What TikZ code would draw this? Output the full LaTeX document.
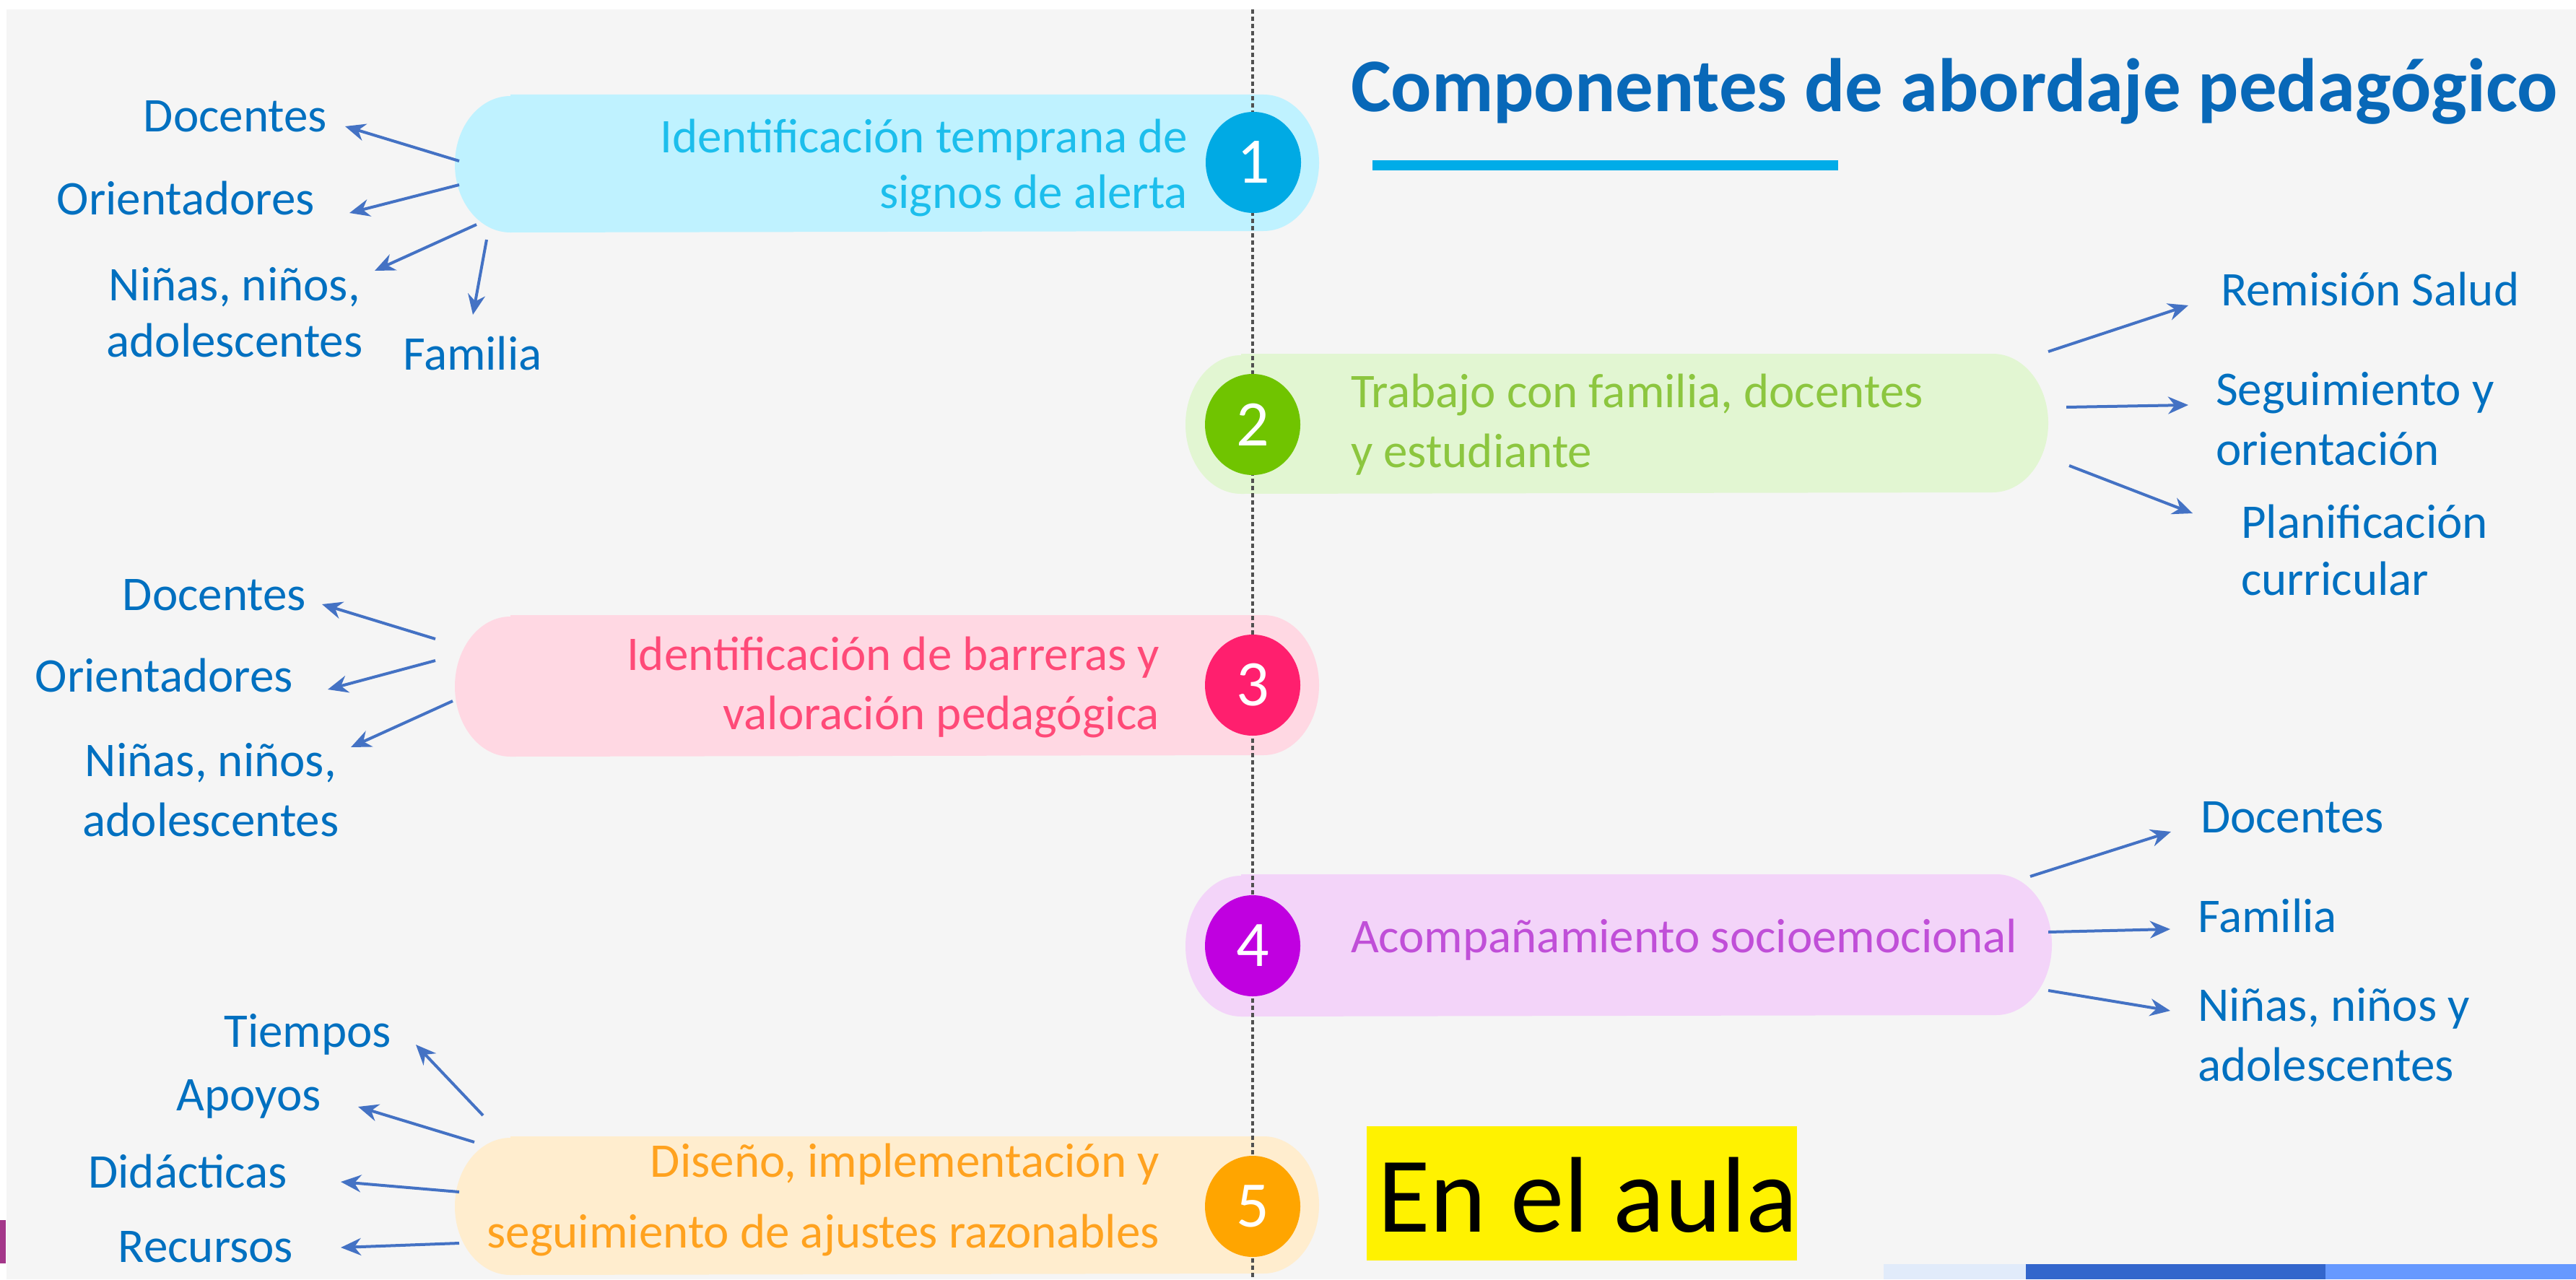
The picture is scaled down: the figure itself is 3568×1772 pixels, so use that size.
\documentclass[tikz,border=0pt]{standalone}
\usepackage{fontspec}
\setmainfont{Carlito}
\usetikzlibrary{arrows.meta,shapes.geometric}
\definecolor{bgc}{HTML}{F5F5F5}
\definecolor{lblc}{HTML}{0070C0}
\definecolor{arrc}{HTML}{4472C4}
\definecolor{titc}{HTML}{0868B8}
\definecolor{barc}{HTML}{00ACE8}
\definecolor{dashc}{HTML}{505050}
\definecolor{p1f}{HTML}{BFF2FF}
\definecolor{p2f}{HTML}{E2F6D2}
\definecolor{p3f}{HTML}{FFD8E3}
\definecolor{p4f}{HTML}{F3D4F9}
\definecolor{p5f}{HTML}{FFEDCE}
\definecolor{c1}{HTML}{00AAE4}
\definecolor{c2}{HTML}{70C400}
\definecolor{c3}{HTML}{FF1F6E}
\definecolor{c4}{HTML}{C000E0}
\definecolor{c5}{HTML}{FFA500}
\definecolor{t1}{HTML}{1CBEEC}
\definecolor{t2}{HTML}{8CC63F}
\definecolor{t3}{HTML}{FF4A78}
\definecolor{t4}{HTML}{C04FD8}
\definecolor{t5}{HTML}{FFA21F}
\definecolor{stripa}{HTML}{E1EBFA}
\definecolor{stripb}{HTML}{3366CC}
\definecolor{stripc}{HTML}{6699FF}
\definecolor{magbar}{HTML}{A4378A}
% pill outline with elliptical ends: #1 node name, #2 colour, #3 half height
\newcommand\pillfill[3]{%
  \fill[#2] ([xshift=15.4pt]#1.north west) -- ([xshift=-15.4pt]#1.north east)
    arc[start angle=90, end angle=-90, x radius=15.4pt, y radius=#3]
    -- ([xshift=15.4pt]#1.south west)
    arc[start angle=270, end angle=90, x radius=15.4pt, y radius=#3] -- cycle;}
\begin{document}
\begin{tikzpicture}[x=0.2pt,y=-0.2pt,
  pill/.style={inner sep=0, draw=none},
  num/.style={ellipse, minimum width=26.4pt, minimum height=28pt, inner sep=0, text=white, font=\fontsize{18}{18}\selectfont},
  lbl/.style={text=lblc, inner sep=0, font=\fontsize{13.4}{16.6}\selectfont},
  ptxt/.style={inner sep=0, font=\fontsize{13.4}{16.6}\selectfont},
  arr/.style={draw=arrc, line width=0.8pt, -{Stealth[length=5.6pt,width=4.8pt]}},
]
\useasboundingbox (0,0) rectangle (3568,1772);
\fill[white] (0,0) rectangle (3568,1772);
\fill[bgc] (9,13) rectangle (3568,1772);
\fill[magbar] (0,1690) rectangle (8,1750);
% bottom strips
\fill[stripa] (2609,1751) rectangle (2806,1772);
\fill[stripb] (2806,1751) rectangle (3221,1772);
\fill[stripc] (3221,1751) rectangle (3568,1772);

% pills
\node[pill, minimum width=239pt, minimum height=37.8pt] (p1) at (1228.5,226.5) {};
\node[pill, minimum width=238.6pt, minimum height=38.4pt] (p2) at (2239.5,587) {};
\node[pill, minimum width=239pt, minimum height=38.8pt] (p3) at (1228.5,950) {};
\node[pill, minimum width=239.6pt, minimum height=39pt] (p4) at (2242,1309.5) {};
\node[pill, minimum width=239pt, minimum height=38pt] (p5) at (1228.5,1670) {};
\pillfill{p1}{p1f}{18.9pt}
\pillfill{p2}{p2f}{19.2pt}
\pillfill{p3}{p3f}{19.4pt}
\pillfill{p4}{p4f}{19.5pt}
\pillfill{p5}{p5f}{19pt}

% dashed axis
\draw[dashc, line width=0.8pt, dash pattern=on 1.2pt off 0.8pt] (1735,13) -- (1735,1772);

% numbers
\node[num, fill=c1] (n1) at (1736,225) {1};
\node[num, fill=c2] (n2) at (1735,588) {2};
\node[num, fill=c3] (n3) at (1735,949) {3};
\node[num, fill=c4] (n4) at (1735,1310) {4};
\node[num, fill=c5] (n5) at (1735,1671) {5};

% pill texts (base anchor = last line baseline)
\node[ptxt, text=t1, align=right, anchor=base east, font=\fontsize{13.4}{15.4}\selectfont] (x1) at (1646,288) {Identificación temprana de\\signos de alerta};
\node[ptxt, text=t2, align=left, anchor=base west] (x2) at (1870,647) {Trabajo con familia, docentes\\y estudiante};
\node[ptxt, text=t3, align=right, anchor=base east, font=\fontsize{13.4}{16.4}\selectfont] (x3) at (1607,1010) {Identificación de barreras y\\valoración pedagógica};
\node[ptxt, text=t4, anchor=base west] (x4) at (1870,1319) {Acompañamiento socioemocional};
\node[ptxt, text=t5, align=right, anchor=base east, font=\fontsize{13.4}{19.6}\selectfont] (x5) at (1607,1728) {Diseño, implementación y\\seguimiento de ajustes razonables};

% title
\node[inner sep=0, anchor=base west, text=titc, font=\fontsize{21}{25}\selectfont\bfseries] (title) at (1870,155) {Componentes de abordaje pedagógico};
\fill[barc] (1901,222) rectangle (2546,236);

% En el aula
\fill[yellow] (1893,1560) rectangle (2489,1746);
\node[inner sep=0, anchor=base west, font=\fontsize{29.8}{32}\selectfont] (aula) at (1907,1706) {En el aula};

% labels
\node[lbl, anchor=base east] (l1a) at (454,183) {Docentes};
\node[lbl, anchor=base east] (l1b) at (437,298) {Orientadores};
\node[lbl, align=center, anchor=base, font=\fontsize{13.4}{15.6}\selectfont] (l1c) at (325,494) {Niñas, niños,\\adolescentes};
\node[lbl, anchor=base west] (l1d) at (557,512) {Familia};

\node[lbl, anchor=base west] (l2a) at (3075,423) {Remisión Salud};
\node[lbl, align=left, anchor=base west] (l2b) at (3068,644) {Seguimiento y\\orientación};
\node[lbl, align=left, anchor=base west, font=\fontsize{13.4}{15.8}\selectfont] (l2c) at (3103,824) {Planificación\\curricular};

\node[lbl, anchor=base east] (l3a) at (425,845) {Docentes};
\node[lbl, anchor=base east] (l3b) at (407,958) {Orientadores};
\node[lbl, align=center, anchor=base] (l3c) at (292,1158) {Niñas, niños,\\adolescentes};

\node[lbl, anchor=base west] (l4a) at (3047,1153) {Docentes};
\node[lbl, anchor=base west] (l4b) at (3043,1291) {Familia};
\node[lbl, align=left, anchor=base west] (l4c) at (3043,1497) {Niñas, niños y\\adolescentes};

\node[lbl, anchor=base east] (l5a) at (543,1450) {Tiempos};
\node[lbl, anchor=base east] (l5b) at (446,1538) {Apoyos};
\node[lbl, anchor=base east] (l5c) at (399,1645) {Didácticas};
\node[lbl, anchor=base east] (l5d) at (407,1748) {Recursos};

% arrow tips
\coordinate (t1a) at (478,175);
\coordinate (t1b) at (484,295);
\coordinate (t1c) at (519,375);
\coordinate (t1d) at (655,436);
\coordinate (t2a) at (3031,423);
\coordinate (t2b) at (3031,561);
\coordinate (t2c) at (3037,711);
\coordinate (t3a) at (446,837);
\coordinate (t3b) at (454,955);
\coordinate (t3c) at (486,1035);
\coordinate (t4a) at (3007,1152);
\coordinate (t4b) at (3006,1287);
\coordinate (t4c) at (3006,1400);
\coordinate (t5a) at (576,1447);
\coordinate (t5b) at (496,1533);
\coordinate (t5c) at (472,1637);
\coordinate (t5d) at (472,1728);

% arrows
\draw[arr] ([shift={(6,-3.5)}]p1.west) -- (t1a);
\draw[arr] ([shift={(6,29.5)}]p1.west) -- (t1b);
\draw[arr] ([shift={(30,84.5)}]p1.west) -- (t1c);
\draw[arr] ([shift={(44,105.5)}]p1.west) -- (t1d);

\draw[arr] ([shift={(0,-100)}]p2.east) -- (t2a);
\draw[arr] ([shift={(25,-23)}]p2.east) -- (t2b);
\draw[arr] ([shift={(29,58)}]p2.east) -- (t2c);

\draw[arr] ([shift={(-27,-65)}]p3.west) -- (t3a);
\draw[arr] ([shift={(-27,-35)}]p3.west) -- (t3b);
\draw[arr] ([shift={(-3,21)}]p3.west) -- (t3c);

\draw[arr] ([shift={(-30,-95.5)}]p4.east) -- (t4a);
\draw[arr] ([shift={(-5,-18.5)}]p4.east) -- (t4b);
\draw[arr] ([shift={(-5,62.5)}]p4.east) -- (t4c);

\draw[arr] ([shift={(39,-125)}]p5.west) -- (t5a);
\draw[arr] ([shift={(27,-88)}]p5.west) -- (t5b);
\draw[arr] ([shift={(6,-19)}]p5.west) -- (t5c);
\draw[arr] ([shift={(6,52)}]p5.west) -- (t5d);
\end{tikzpicture}
\end{document}
